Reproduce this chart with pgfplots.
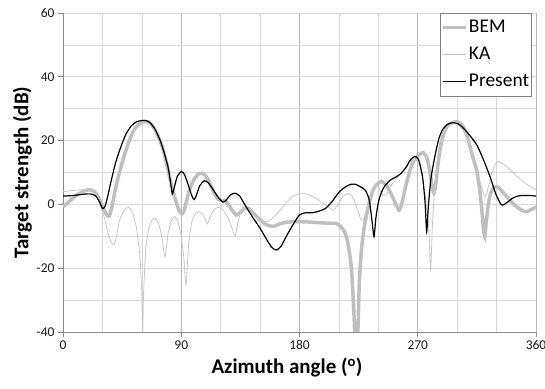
\documentclass[border=0pt]{standalone}
\usepackage{pgfplots}
\pgfplotsset{compat=1.18}
\usepackage{pgfplotstable}
\usepackage{fontspec}
\setmainfont{Carlito}

\pgfplotstableread{
x y
0 2.6
8 2.8
16 3.2
21 3.3
25 2.6
28 0.6
30.2 -1.3
32 -0.6
34 2.5
37 8
40 13
44 18
48 22.1
52 24.6
56 25.9
60 26.3
63 26.3
66 25.7
70 23.6
74 20
77 16.2
80 11.6
82 6.5
83.2 3.2
84.5 5
87 8.8
90.3 10.3
92.5 9.3
95 6.5
98 2.8
99.7 1.5
101.5 2.8
104 5.8
107.5 7.4
110.5 6.8
114 4.8
118 2.3
121.8 0.7
124.5 1.5
127.5 3
131 3.5
134.5 2.6
139 -0.5
144 -3.8
150 -7.5
155 -11
159 -13.5
162.5 -14.3
166 -13.1
170 -10
175 -6.4
180 -3.3
185 -2.6
190 -2.6
195 -2.1
200 -1.2
205 1
210 3.8
215 5.5
219 6.3
222.5 6.3
226 5.6
230 4.5
233 1.5
235 -4.5
236.7 -10.1
238.2 -4
240.5 1.5
244 5.2
249 7.6
253 8.5
257 9.6
261 11.6
264.5 14
267.5 15
270.5 14.2
273.5 9
275.5 1
276.8 -8.6
278 -1
280 8
283 15
286 20.5
289 23.5
293 25.2
297 25.6
301 25.2
305 23.8
310 21.4
315 18.6
320 14
325 8.7
329.5 3.2
333.8 -0.2
338 0.6
342 1.9
346 2.6
350 2.8
355 2.8
360 2.6
}\present

\pgfplotstableread{
x y
0 -0.8
5 1
10 2.8
15 4
20 4.6
24 4
28 1.5
31 -1.5
33.5 -3.4
35.2 -3.6
36.8 -1.5
39 3
42 8.5
46 14.5
50 19.5
54 23.3
58 25.3
62 26
65 25.8
68 24.8
72 21.8
76 17.5
79 12.5
82 7
85 2.3
88 -1.5
90.5 -3
92.5 -1.5
95.5 3.5
99 7.3
102.5 9.3
105.5 9.8
108.5 9
111.5 6.8
114.5 4
117.5 1.8
120 1.3
123 1.2
126 0
129 -2
132 -3.3
135 -2.5
138 -1.2
141 -1.2
145 -2.8
150 -4.8
155 -6.4
160 -6.9
165 -6.1
170 -5.6
178 -5.4
186 -5.5
194 -5.7
202 -5.9
208 -6
211.5 -7
214.5 -8.8
217 -12.5
219.5 -20
221.5 -35
222.5 -45
224 -45
225.5 -25
227.2 -14
229.5 -6.5
231.5 -2.5
233.6 1.4
236 4.5
238.7 6.2
242.5 7.2
246 6
249.5 3.5
253 0.3
255.8 -1.8
258 0.5
261 6
264 10.5
267 13.8
271 15.6
274.2 16.2
277 14.5
279.5 9.5
281 5.5
282.3 3.5
283.6 6
285.5 13
287.5 18.5
290 22.5
293 24.8
296.5 25.7
300 25.9
303.5 25
306.5 22.8
309.5 18.5
312.5 14
315 10.5
317 5
318.8 -2
320 -7.5
321 -10.1
322 -6
323.5 -0.5
325.5 3.5
328 5.3
331 5.4
334.5 4
339 1.8
344 -0.3
349 -1.8
352.5 -2.3
356 -1.7
360 -0.8
}\bem

\pgfplotstableread{
x y
0 4
6 4.3
12 4.5
18 4.8
22 4.6
25 3.5
28 -0.2
31 -3.5
34 -8.5
36.8 -12
38.8 -12.7
40.5 -10.5
43 -5
46.5 -1.8
49.7 -0.9
53 -2.5
56 -7.5
58.5 -16
60 -28
60.6 -42
61.3 -28
63 -14
65.5 -7.2
68 -4.8
70 -4.4
72.5 -5.8
75 -9.5
77.6 -16.6
80 -9
82.5 -5
85 -3.8
87.5 -5.5
90 -10
92 -17
93.6 -25.3
95.5 -13
98 -5.5
101 -2.8
104 -2.3
107 -3.4
109.8 -6.1
112.5 -3.3
116 -1.3
119.5 -0.9
123 -2.3
126.5 -5
129.5 -8.5
130.9 -10.1
132.5 -7
135 -2.6
138 -1.2
141 -1.6
145 -3.3
150 -5
155 -5.4
160 -4.2
165 -2
170 0.6
175 2.5
180.5 3.5
186 3.2
192 2
197 0.6
202 -0.8
205.7 -1.8
209 -0.3
213 2.5
217.5 3.5
221 2
224 -1.5
226.5 -4.5
228.5 -5
231 -1.5
234 3
237.5 6.3
240.5 5.3
243.5 2.8
246.5 3.2
250 6
255 8.8
260 10.8
264.5 13.5
268 14.2
271 12.5
274 7.5
276.5 0
278.5 -8
279.8 -21
281 -8
282.5 3
284.5 12
287 19.5
290 23
294 25.1
298 25.5
302 24.6
306 22
310 17.3
314 11.5
317.4 7
320 3.4
321.3 2.4
323 4.2
326 9.4
329 12.6
331.5 13.4
335 12.8
340 11
345 9
350 7.2
355 5.8
360 4.5
}\ka

\begin{document}
\begin{tikzpicture}
\begin{axis}[
  name=ax,
  scale only axis,
  width=473bp, height=319bp,
  xmin=0, xmax=360, ymin=-40, ymax=60,
  axis lines=left,
  axis line style={-, draw=black!45},
  xtick={0,90,180,270,360},
  minor xtick={30,60,120,150,210,240,300,330},
  ytick={-40,-20,0,20,40,60},
  yticklabels={-40,-20,0,20,40,60},
  minor ytick={-30,-10,10,30,50},
  grid=both,
  major grid style={draw=black!15, line width=0.6bp},
  minor grid style={draw=black!15, line width=0.6bp},
  major x grid style={draw=black!28, line width=0.6bp},
  tick align=outside,
  major tick length=5bp,
  minor tick length=0pt,
  tick style={draw=black!45, line width=0.6bp},
  ticklabel style={font=\fontsize{13.5}{16}\selectfont, text=black!90},
  /pgf/number format/assume math mode=true,
  xlabel={Azimuth angle (\textsuperscript{o})},
  ylabel={Target strength (dB)},
  xlabel style={font=\fontsize{21}{25}\selectfont\bfseries, at={(axis description cs:0.4735,0)}, anchor=base, yshift=-42bp},
  ylabel style={font=\fontsize{21}{25}\selectfont\bfseries, at={(axis description cs:-0.0655,0.5)}, anchor=south, inner sep=0pt},
  legend style={at={(axis description cs:1,1)}, anchor=north east, xshift=-4.3bp,
    draw=black!50, fill=white, inner sep=1bp,
    font=\fontsize{19.5}{22}\selectfont,
    nodes={inner xsep=1.5bp, inner ysep=5bp, text height=13bp, text depth=4bp},
    row sep=0pt},
  legend cell align=left,
  legend image code/.code={\draw[#1] (0bp,0bp) -- (23bp,0bp);},
]
\addplot[draw=black!25, line width=3.5bp, smooth, tension=0.4] table[x=x,y=y] {\bem};
\addlegendentry{BEM}
\addplot[draw=black!22, line width=0.8bp, smooth, tension=0.3] table[x=x,y=y] {\ka};
\addlegendentry{KA}
\addplot[draw=black, line width=1.2bp, smooth, tension=0.4] table[x=x,y=y] {\present};
\addlegendentry{Present}
\end{axis}
\pgfresetboundingbox
\path[use as bounding box] ([shift={(-63bp,-57bp)}]ax.south west) rectangle ([shift={(9bp,13bp)}]ax.north east);
\end{tikzpicture}
\end{document}
